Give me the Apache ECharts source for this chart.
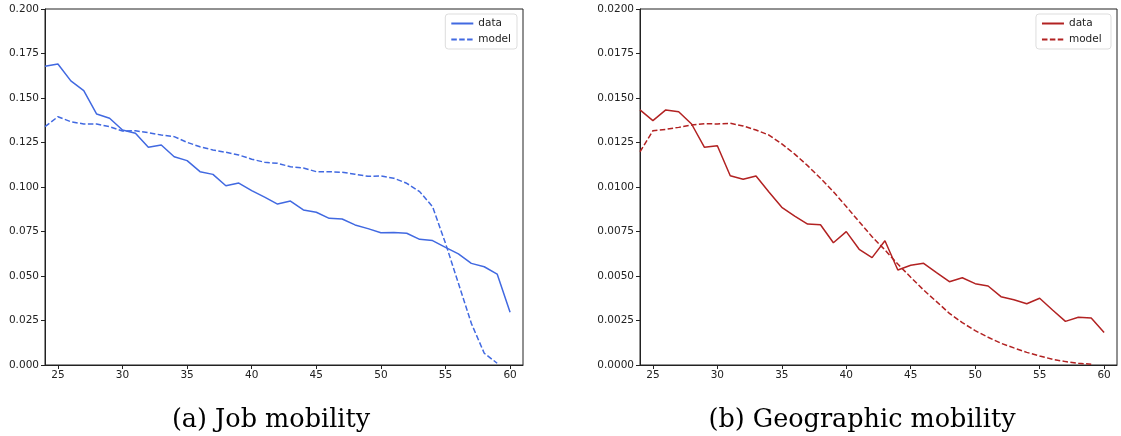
<!DOCTYPE html>
<html>
<head>
<meta charset="utf-8">
<script src="https://cdn.jsdelivr.net/npm/echarts@6/dist/echarts.min.js"></script>
<style>
  html, body { margin: 0; padding: 0; background: #fff; }
  #chart { width: 1121px; height: 436px; }
</style>
</head>
<body>
<div id="chart"></div>
<script>
// ages 24..60
const ages = [24, 25, 26, 27, 28, 29, 30, 31, 32, 33, 34, 35, 36, 37, 38, 39, 40, 41, 42,
  43, 44, 45, 46, 47, 48, 49, 50, 51, 52, 53, 54, 55, 56, 57, 58, 59, 60]
const xTicks = [25, 30, 35, 40, 45, 50, 55, 60]

// (a) job mobility
const jobData = [0.1678, 0.1691, 0.1596, 0.1541, 0.1410, 0.1386, 0.1320, 0.1302, 0.1223, 0.1236,
  0.1170, 0.1148, 0.1086, 0.1071, 0.1007, 0.1022, 0.0980, 0.0943, 0.0904, 0.0921,
  0.0871, 0.0858, 0.0824, 0.0820, 0.0787, 0.0766, 0.0743, 0.0745, 0.0740, 0.0706,
  0.0699, 0.0661, 0.0624, 0.0571, 0.0552, 0.0511, 0.0296]
const jobModel = [0.1339, 0.1395, 0.1367, 0.1354, 0.1354, 0.1339, 0.1315, 0.1316, 0.1305, 0.1292,
  0.1283, 0.1251, 0.1226, 0.1208, 0.1195, 0.1180, 0.1156, 0.1139, 0.1133, 0.1114,
  0.1107, 0.1086, 0.1086, 0.1083, 0.1072, 0.1060, 0.1062, 0.1049, 0.1021, 0.0974,
  0.0889, 0.0684, 0.0459, 0.0234, 0.0066, 0.0010, null]

// (b) geographic mobility
const geoData = [0.01433, 0.01373, 0.01433, 0.01423, 0.01354, 0.01223, 0.01232, 0.01063, 0.01043, 0.01062,
  0.00972, 0.00886, 0.00837, 0.00792, 0.00788, 0.00687, 0.00749, 0.00650, 0.00603, 0.00698,
  0.00534, 0.00560, 0.00571, 0.00519, 0.00468, 0.00490, 0.00457, 0.00444, 0.00384, 0.00367,
  0.00344, 0.00375, 0.00309, 0.00245, 0.00268, 0.00264, 0.00182]
const geoModel = [0.01198, 0.01316, 0.01324, 0.01335, 0.01348, 0.01356, 0.01354, 0.01358, 0.01343, 0.01320,
  0.01292, 0.01242, 0.01185, 0.01120, 0.01049, 0.00974, 0.00890, 0.00805, 0.00721, 0.00646,
  0.00567, 0.00493, 0.00421, 0.00356, 0.00290, 0.00238, 0.00193, 0.00156, 0.00122, 0.00096,
  0.00071, 0.00051, 0.00032, 0.00019, 0.00010, 0.00004, null]

const pairs = vals => ages.map((a, i) => [a, vals[i]])

const chart = echarts.init(document.getElementById('chart'), null, { renderer: 'canvas' })

const tickFont = { fontFamily: 'DejaVu Sans', fontSize: 10.5, color: '#222' }

function xAxisFor(gi) {
  return {
    type: 'value', gridIndex: gi, min: 24, max: 61,
    axisLine: { show: true, onZero: false, lineStyle: { color: '#222', width: 1 } },
    axisTick: { show: true, length: 4, lineStyle: { color: '#222' }, customValues: xTicks },
    axisLabel: { ...tickFont, margin: 5, customValues: xTicks },
    splitLine: { show: false }
  }
}
function yAxisFor(gi, max, step, dec) {
  return {
    type: 'value', gridIndex: gi, min: 0, max: max, interval: step,
    axisLine: { show: true, lineStyle: { color: '#222', width: 1 } },
    axisTick: { show: true, length: 4, lineStyle: { color: '#222' } },
    axisLabel: { ...tickFont, margin: 6, formatter: v => v.toFixed(dec) },
    splitLine: { show: false }
  }
}
function lineSeries(name, gi, vals, color, dashed) {
  return {
    name: name, type: 'line', xAxisIndex: gi, yAxisIndex: gi,
    data: pairs(vals), symbol: 'none', connectNulls: false,
    lineStyle: { color: color, width: 1.5, type: dashed ? [5.5, 2.4] : 'solid' },
    itemStyle: { color: color }
  }
}
function legendFor(right, names) {
  return {
    data: names.map(n => ({ name: n })), orient: 'vertical',
    right: right, top: 14,
    itemWidth: 22, itemHeight: 10, itemGap: 5,
    padding: [4, 6, 4, 5],
    itemStyle: { opacity: 0 },
    borderColor: '#ddd', borderWidth: 1, borderRadius: 3, backgroundColor: '#fff',
    textStyle: { fontFamily: 'DejaVu Sans', fontSize: 10.5, color: '#222' }
  }
}

const blue = '#4169e1'
const red = '#b22222'
const captionFont = { fontFamily: 'DejaVu Serif', fontSize: 25.5, fontWeight: 'normal', color: '#000' }

chart.setOption({
  animation: false,
  grid: [
    { left: 45, top: 9, width: 478, height: 356, show: true, borderColor: '#222', borderWidth: 1 },
    { left: 640, top: 9, width: 477, height: 356, show: true, borderColor: '#222', borderWidth: 1 }
  ],
  xAxis: [xAxisFor(0), xAxisFor(1)],
  yAxis: [yAxisFor(0, 0.2, 0.025, 3), yAxisFor(1, 0.02, 0.0025, 4)],
  legend: [
    legendFor(604, ['data', 'model']),
    legendFor(10, ['data ', 'model '])
  ],
  title: [
    { text: '(a) Job mobility', left: 266, top: 402, textAlign: 'center', textStyle: captionFont },
    { text: '(b) Geographic mobility', left: 857, top: 402, textAlign: 'center', textStyle: captionFont }
  ],
  series: [
    lineSeries('data', 0, jobData, blue, false),
    lineSeries('model', 0, jobModel, blue, true),
    lineSeries('data ', 1, geoData, red, false),
    lineSeries('model ', 1, geoModel, red, true)
  ]
})
</script>
</body>
</html>
